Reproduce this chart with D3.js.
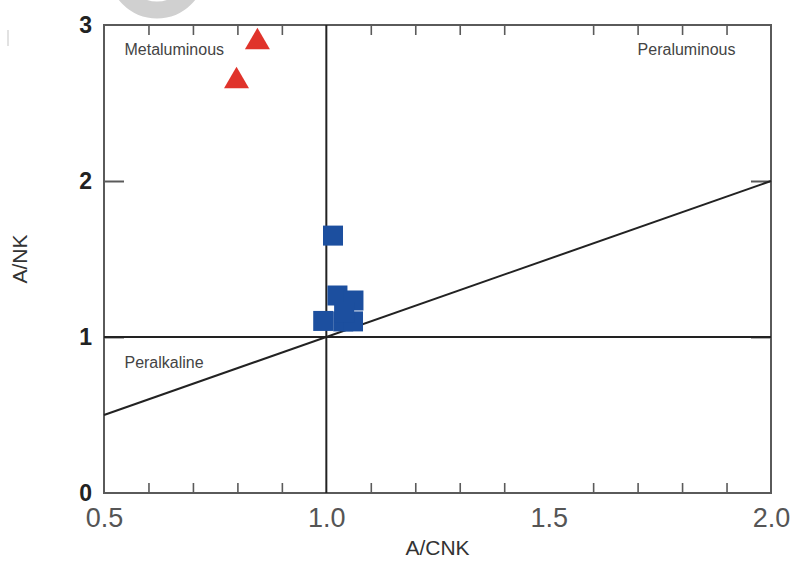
<!DOCTYPE html>
<html>
<head>
<meta charset="utf-8">
<script src="https://cdn.jsdelivr.net/npm/d3@7"></script>
<style>
  body { margin: 0; background: #fff; }
  svg { display: block; font-family: "Liberation Sans", Arial, sans-serif; }
  .frame line, .frame path { stroke: #5a5a5a; }
</style>
</head>
<body>
<script>
// Data
var triangleX = [0.845, 0.798];
var triangleY = [2.89, 2.64];

var squareX = [1.015, 1.025, 1.061, 0.993, 1.038, 1.060, 1.040];
var squareY = [1.65, 1.266, 1.234, 1.103, 1.10, 1.10, 1.16];

var xMajor = [0.5, 1.0, 1.5, 2.0];
var xMinor = [0.6, 0.7, 0.8, 0.9, 1.1, 1.2, 1.3, 1.4, 1.6, 1.7, 1.8, 1.9];
var yMajor = [0, 1, 2, 3];

var regionLabels = ["Metaluminous", "Peraluminous", "Peralkaline"];
var regionX = [0.546, 1.92, 0.546];
var regionY = [2.81, 2.81, 0.80];

// Chart size
var svgWidth = 792;
var svgHeight = 561;
var margin = { top: 25, right: 21, bottom: 68, left: 104 };
var chartWidth = svgWidth - margin.left - margin.right;
var chartHeight = svgHeight - margin.top - margin.bottom;

var svg = d3.select("body")
  .append("svg")
  .attr("width", svgWidth)
  .attr("height", svgHeight);

// faint watermark at the top
svg.append("circle")
  .attr("cx", 157)
  .attr("cy", -30)
  .attr("r", 40)
  .attr("fill", "none")
  .attr("stroke", "#d0d0d0")
  .attr("stroke-width", 17);
svg.append("line")
  .attr("x1", 8).attr("x2", 8)
  .attr("y1", 30).attr("y2", 46)
  .attr("stroke", "#d8d8d8")
  .attr("stroke-width", 1.5);

var chartGroup = svg.append("g")
  .attr("transform", `translate(${margin.left}, ${margin.top})`);

var xScale = d3.scaleLinear().domain([0.5, 2.0]).range([0, chartWidth]);
var yScale = d3.scaleLinear().domain([0, 3]).range([chartHeight, 0]);

// frame
chartGroup.append("rect")
  .attr("width", chartWidth)
  .attr("height", chartHeight)
  .attr("fill", "none")
  .attr("stroke", "#5a5a5a")
  .attr("stroke-width", 2);

// minor ticks, inward, bottom and top
var bottomMinor = d3.axisBottom(xScale).tickValues(xMinor).tickSize(-10).tickFormat("");
var topMinor = d3.axisTop(xScale).tickValues(xMinor).tickSize(-10).tickFormat("");

chartGroup.append("g")
  .classed("frame", true)
  .attr("transform", `translate(0, ${chartHeight})`)
  .call(bottomMinor)
  .call(g => g.select(".domain").remove())
  .selectAll("line").attr("stroke-width", 1.6);

chartGroup.append("g")
  .classed("frame", true)
  .call(topMinor)
  .call(g => g.select(".domain").remove())
  .selectAll("line").attr("stroke-width", 1.6);

// major x labels
var bottomAxis = d3.axisBottom(xScale).tickValues(xMajor).tickSize(0).tickPadding(15)
  .tickFormat(d3.format(".1f"));
var bx = chartGroup.append("g")
  .attr("transform", `translate(0, ${chartHeight})`)
  .call(bottomAxis);
bx.select(".domain").remove();
bx.selectAll("text")
  .attr("font-size", 27)
  .attr("fill", "#555")
  .attr("font-family", "Liberation Sans, Arial, sans-serif");

// y axis: labels and inward ticks on left and right
var leftAxis = d3.axisLeft(yScale).tickValues(yMajor).tickSize(0).tickPadding(12)
  .tickFormat(d3.format("d"));
var ly = chartGroup.append("g").call(leftAxis);
ly.select(".domain").remove();
ly.selectAll("text")
  .attr("font-size", 23)
  .attr("font-weight", "bold")
  .attr("fill", "#222")
  .attr("font-family", "Liberation Sans, Arial, sans-serif");

var leftTicks = d3.axisLeft(yScale).tickValues([1, 2]).tickSize(-20).tickFormat("");
chartGroup.append("g")
  .classed("frame", true)
  .call(leftTicks)
  .call(g => g.select(".domain").remove())
  .selectAll("line").attr("stroke-width", 2);

var rightTicks = d3.axisRight(yScale).tickValues([1, 2]).tickSize(-20).tickFormat("");
chartGroup.append("g")
  .classed("frame", true)
  .attr("transform", `translate(${chartWidth}, 0)`)
  .call(rightTicks)
  .call(g => g.select(".domain").remove())
  .selectAll("line").attr("stroke-width", 2);

// dividing lines
var line = d3.line().x(d => xScale(d[0])).y(d => yScale(d[1]));
var dividers = [
  [[1.0, 0], [1.0, 3]],
  [[0.5, 1], [2.0, 1]],
  [[0.5, 0.5], [2.0, 2.0]]
];
chartGroup.selectAll(".divider")
  .data(dividers)
  .enter()
  .append("path")
  .attr("d", d => line(d))
  .attr("fill", "none")
  .attr("stroke", "#222")
  .attr("stroke-width", 2);

// region labels
chartGroup.selectAll(".region")
  .data(regionLabels)
  .enter()
  .append("text")
  .attr("x", (d, i) => xScale(regionX[i]))
  .attr("y", (d, i) => yScale(regionY[i]))
  .attr("text-anchor", (d, i) => i === 1 ? "end" : "start")
  .attr("font-size", 16)
  .attr("fill", "#444")
  .text(d => d);

// squares
var squareSize = 20;
chartGroup.selectAll(".square")
  .data(squareX)
  .enter()
  .append("rect")
  .attr("x", (d, i) => xScale(d) - squareSize / 2)
  .attr("y", (d, i) => yScale(squareY[i]) - squareSize / 2)
  .attr("width", squareSize)
  .attr("height", squareSize)
  .attr("fill", "#1c4f9f");

// triangles
var triangle = d3.symbol().type(d3.symbolTriangle).size(270);
chartGroup.selectAll(".triangle")
  .data(triangleX)
  .enter()
  .append("path")
  .attr("d", triangle)
  .attr("transform", (d, i) => `translate(${xScale(d)}, ${yScale(triangleY[i])})`)
  .attr("fill", "#e0332b");

// axis titles
svg.append("text")
  .attr("x", margin.left + chartWidth / 2)
  .attr("y", 555)
  .attr("text-anchor", "middle")
  .attr("font-size", 21)
  .attr("fill", "#333")
  .text("A/CNK");

svg.append("text")
  .attr("transform", `translate(27, ${margin.top + yScale(1.5)}) rotate(-90)`)
  .attr("text-anchor", "middle")
  .attr("font-size", 21)
  .attr("fill", "#333")
  .text("A/NK");
</script>
</body>
</html>
